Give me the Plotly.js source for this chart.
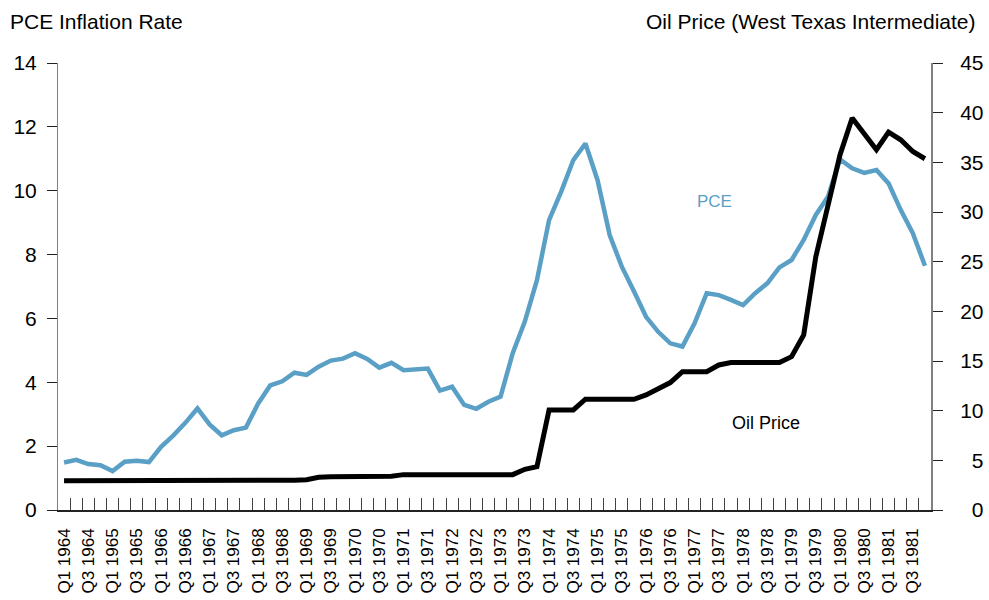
<!DOCTYPE html>
<html>
<head>
<meta charset="utf-8">
<script src="https://cdn.plot.ly/plotly-3.0.1.min.js"></script>
<style>html,body{margin:0;padding:0;background:#fff;}#chart{width:989px;height:600px;}</style>
</head>
<body>
<div id="chart"></div>
<script>
// Quarter labels, Q1 1964 .. Q4 1981
const years = [1964,1965,1966,1967,1968,1969,1970,1971,1972,1973,1974,1975,1976,1977,1978,1979,1980,1981];
const quarters = ["Q1","Q2","Q3","Q4"];
const categories = [];
years.forEach(y => quarters.forEach(q => categories.push(q + " " + y)));
// Show labels only for Q1 and Q3
const tickLabels = categories.map(c => (c.startsWith("Q1") || c.startsWith("Q3")) ? c : "");

// PCE inflation rate (%)
const pce = [
  1.49,1.57,1.44,1.40, 1.22,1.51,1.54,1.50, 1.98,2.33,2.73,3.18, 2.68,2.34,2.50,2.58,
  3.33,3.90,4.03,4.30, 4.23,4.49,4.68,4.74, 4.91,4.73,4.46,4.61, 4.38,4.42,4.43,3.74,
  3.86,3.29,3.17,3.39, 3.55,4.91,5.90,7.20, 9.08,9.97,10.96,11.48, 10.33,8.61,7.62,6.85,
  6.05,5.58,5.22,5.12, 5.85,6.79,6.73,6.58, 6.42,6.79,7.10,7.60, 7.83,8.46,9.24,9.81,
  10.98,10.70,10.56,10.65, 10.23,9.40,8.67,7.65
];
// Oil price, West Texas Intermediate ($)
const oil = [
  2.95,2.95,2.88,2.88, 2.88,2.88,2.88,2.88, 2.88,2.88,2.88,2.88, 2.90,2.92,2.95,2.97,
  3.00,3.00,3.00,3.00, 3.05,3.30,3.35,3.35, 3.35,3.35,3.30,3.40, 3.56,3.56,3.56,3.56,
  3.56,3.56,3.56,3.56, 3.56,3.56,4.10,4.36, 10.07,10.07,10.07,11.15, 11.15,11.15,11.15,11.15,
  11.58,12.16,12.83,13.93, 13.93,13.93,14.60,14.85, 14.85,14.85,14.85,14.85, 15.44,17.63,25.50,30.55,
  35.76,39.46,37.95,36.27, 38.05,37.27,36.09,35.36
];

const FONT = '"Liberation Sans", Arial, Helvetica, sans-serif';
const BLUE = '#5a9fc5';

const traces = [
  {x: categories, y: pce, type: 'scatter', mode: 'lines', name: 'PCE', yaxis: 'y',
   line: {color: BLUE, width: 4.5}},
  {x: categories, y: oil, type: 'scatter', mode: 'lines', name: 'Oil Price', yaxis: 'y2',
   line: {color: '#000000', width: 5}}
];

const layout = {
  width: 989, height: 600,
  margin: {l: 58, r: 58, t: 63, b: 90, pad: 0},
  paper_bgcolor: '#ffffff', plot_bgcolor: '#ffffff',
  showlegend: false,
  font: {family: FONT, color: '#000', size: 21},
  title: {text: 'PCE Inflation Rate', xref: 'container', yref: 'container',
          x: 10/989, xanchor: 'left', y: 1 - 22/600, yanchor: 'middle',
          font: {family: FONT, size: 21, color: '#000'}},
  xaxis: {
    type: 'category', categoryorder: 'array', categoryarray: categories,
    range: [-0.5, categories.length - 0.5],
    tickmode: 'array', tickvals: categories, ticktext: tickLabels,
    tickson: 'boundaries', ticks: 'inside', ticklen: 12, tickwidth: 1, tickcolor: '#444',
    tickangle: -90, tickfont: {family: FONT, size: 17, color: '#000'},
    ticklabelstandoff: 10,
    showline: true, linecolor: '#222', linewidth: 1.5,
    showgrid: false, zeroline: false, fixedrange: true
  },
  yaxis: {
    range: [0, 14], dtick: 2, tick0: 0,
    ticks: 'outside', ticklen: 10, tickwidth: 1, tickcolor: '#222',
    tickfont: {family: FONT, size: 21, color: '#000'},
    ticklabelstandoff: 6,
    showline: true, linecolor: '#808080', linewidth: 1,
    showgrid: false, zeroline: false, fixedrange: true
  },
  yaxis2: {
    overlaying: 'y', side: 'right',
    range: [0, 45], dtick: 5, tick0: 0, tickformat: '\u2007>2',
    ticks: 'outside', ticklen: 10, tickwidth: 1, tickcolor: '#222',
    tickfont: {family: FONT, size: 21, color: '#000'},
    ticklabelstandoff: 13,
    showline: true, linecolor: '#808080', linewidth: 2,
    showgrid: false, zeroline: false, fixedrange: true
  },
  annotations: [
    {text: 'Oil Price (West Texas Intermediate)', xref: 'paper', yref: 'paper',
     x: (978-58)/873, xanchor: 'right', y: (510-22)/447, yanchor: 'middle',
     showarrow: false, font: {family: FONT, size: 21, color: '#000'}},
    {text: 'PCE', xref: 'paper', yref: 'paper', x: (714.5-58)/873, y: (510-201.7)/447,
     xanchor: 'center', yanchor: 'middle', showarrow: false,
     font: {family: FONT, size: 17, color: BLUE}},
    {text: 'Oil Price', xref: 'paper', yref: 'paper', x: (765.5-58)/873, y: (510-423.3)/447,
     xanchor: 'center', yanchor: 'middle', showarrow: false,
     font: {family: FONT, size: 18, color: '#000'}}
  ]
};

Plotly.newPlot('chart', traces, layout, {staticPlot: true, displayModeBar: false});
</script>
</body>
</html>
